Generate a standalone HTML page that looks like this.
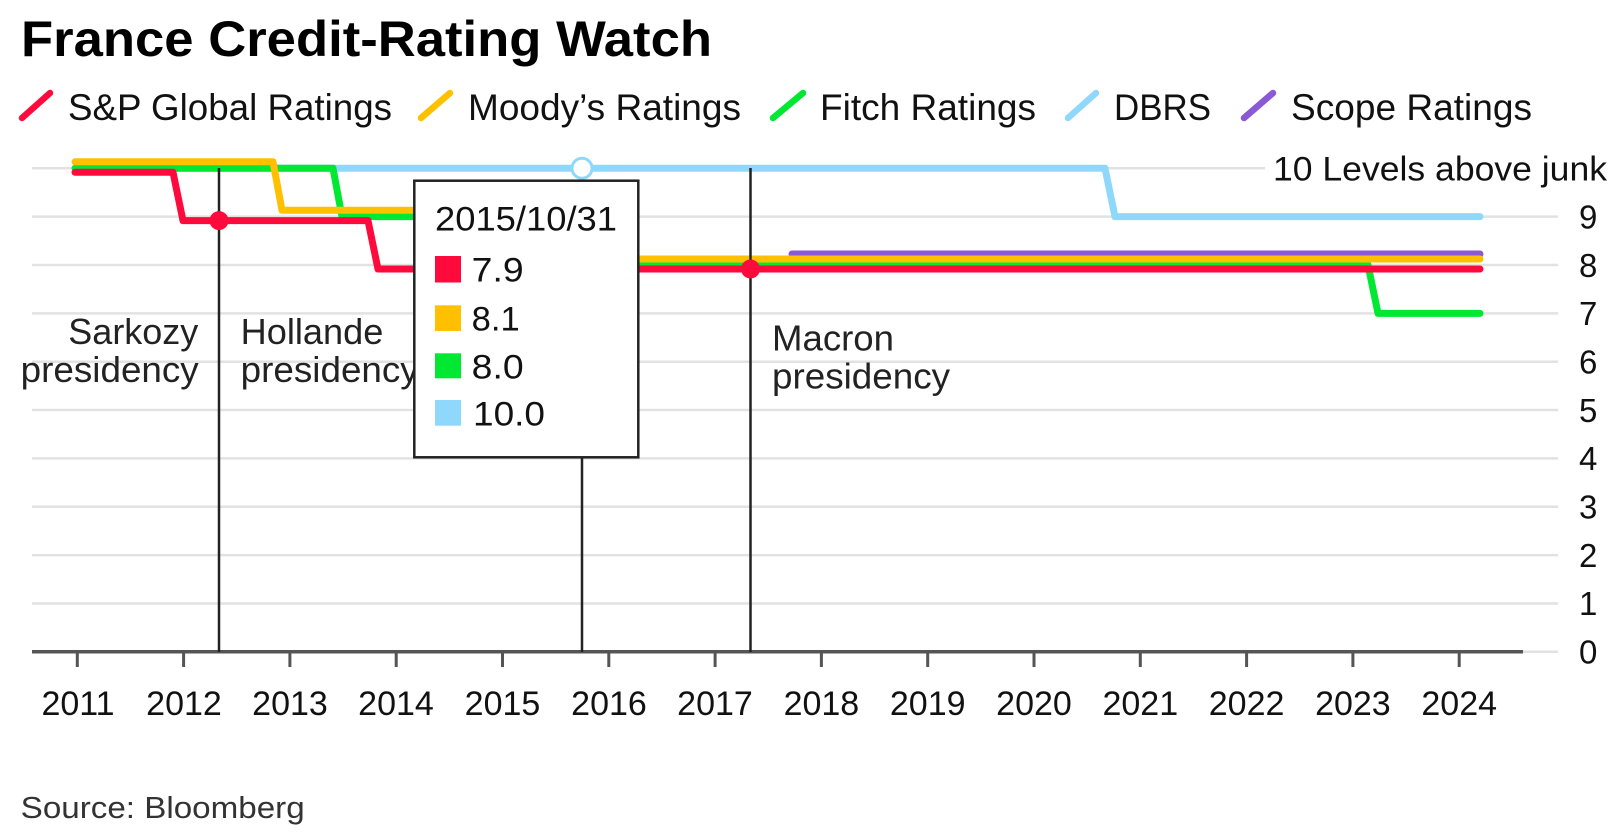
<!DOCTYPE html>
<html>
<head>
<meta charset="utf-8">
<style>
html,body{margin:0;padding:0;background:#fff;}
svg{display:block;}
text{font-family:"Liberation Sans", Arial, sans-serif;}
</style>
</head>
<body>
<svg width="1619" height="834" viewBox="0 0 1619 834" xmlns="http://www.w3.org/2000/svg">
  <rect x="0" y="0" width="1619" height="834" fill="#fff"/>

  <!-- Title -->
  <text x="21" y="56" font-size="50" font-weight="bold" fill="#000" textLength="691" lengthAdjust="spacingAndGlyphs">France Credit-Rating Watch</text>

  <!-- Legend -->
  <g stroke-width="6.5" stroke-linecap="round">
    <line x1="22" y1="118" x2="50" y2="93" stroke="#ff0a3c"/>
    <line x1="421" y1="118" x2="450" y2="93" stroke="#ffc000"/>
    <line x1="773" y1="118" x2="803" y2="93" stroke="#00e832"/>
    <line x1="1068" y1="118" x2="1096" y2="93" stroke="#8fd8fb"/>
    <line x1="1244" y1="118" x2="1273" y2="93" stroke="#8a5ad6"/>
  </g>
  <g font-size="37" fill="#111">
    <text x="68" y="120" textLength="324" lengthAdjust="spacingAndGlyphs">S&amp;P Global Ratings</text>
    <text x="468" y="120" textLength="273" lengthAdjust="spacingAndGlyphs">Moody’s Ratings</text>
    <text x="820" y="120" textLength="216" lengthAdjust="spacingAndGlyphs">Fitch Ratings</text>
    <text x="1114" y="120" textLength="97" lengthAdjust="spacingAndGlyphs">DBRS</text>
    <text x="1291" y="120" textLength="241" lengthAdjust="spacingAndGlyphs">Scope Ratings</text>
  </g>

  <!-- Gridlines -->
  <g stroke="#e2e2e2" stroke-width="2.5">
    <line x1="32" y1="168.3" x2="1265" y2="168.3"/>
    <line x1="32" y1="216.65" x2="1558" y2="216.65"/>
    <line x1="32" y1="265" x2="1558" y2="265"/>
    <line x1="32" y1="313.35" x2="1558" y2="313.35"/>
    <line x1="32" y1="361.7" x2="1558" y2="361.7"/>
    <line x1="32" y1="410.05" x2="1558" y2="410.05"/>
    <line x1="32" y1="458.4" x2="1558" y2="458.4"/>
    <line x1="32" y1="506.75" x2="1558" y2="506.75"/>
    <line x1="32" y1="555.1" x2="1558" y2="555.1"/>
    <line x1="32" y1="603.45" x2="1558" y2="603.45"/>
    <line x1="32" y1="651.8" x2="1558" y2="651.8"/>
  </g>

  <!-- Y labels -->
  <text x="1607" y="180.7" font-size="34" fill="#111" text-anchor="end" textLength="334" lengthAdjust="spacingAndGlyphs">10 Levels above junk</text>
  <g font-size="33" fill="#111">
    <text x="1579" y="228.4">9</text>
    <text x="1579" y="276.8">8</text>
    <text x="1579" y="325.1">7</text>
    <text x="1579" y="373.5">6</text>
    <text x="1579" y="421.8">5</text>
    <text x="1579" y="470.2">4</text>
    <text x="1579" y="518.5">3</text>
    <text x="1579" y="566.9">2</text>
    <text x="1579" y="615.2">1</text>
    <text x="1579" y="663.6">0</text>
  </g>

  <!-- Series -->
  <g fill="none" stroke-width="7" stroke-linecap="round" stroke-linejoin="round">
    <!-- DBRS -->
    <polyline stroke="#8fd8fb" points="75,168.3 1105,168.3 1115,216.65 1480,216.65"/>
    <!-- Scope -->
    <polyline stroke="#8a5ad6" points="792,254 1480,254"/>
    <!-- Fitch -->
    <polyline stroke="#00e832" points="75,168.3 333,168.3 342,216.65 495,216.65 505,265 1368,265 1378,313.35 1480,313.35"/>
    <!-- Moody's -->
    <polyline stroke="#ffc000" points="75,161.8 273,161.8 282,210.2 578,210.2 588,259 1480,259"/>
    <!-- S&P -->
    <polyline stroke="#ff0a3c" points="75,172.3 173,172.3 183,220.65 368,220.65 378,269 1480,269"/>
  </g>

  <!-- Axis -->
  <line x1="32" y1="651.8" x2="1523" y2="651.8" stroke="#555" stroke-width="3.5"/>
  <g stroke="#555" stroke-width="3">
    <line x1="77.3" y1="652" x2="77.3" y2="667"/>
    <line x1="183.6" y1="652" x2="183.6" y2="667"/>
    <line x1="289.9" y1="652" x2="289.9" y2="667"/>
    <line x1="396.2" y1="652" x2="396.2" y2="667"/>
    <line x1="502.5" y1="652" x2="502.5" y2="667"/>
    <line x1="608.8" y1="652" x2="608.8" y2="667"/>
    <line x1="715.1" y1="652" x2="715.1" y2="667"/>
    <line x1="821.4" y1="652" x2="821.4" y2="667"/>
    <line x1="927.7" y1="652" x2="927.7" y2="667"/>
    <line x1="1034" y1="652" x2="1034" y2="667"/>
    <line x1="1140.3" y1="652" x2="1140.3" y2="667"/>
    <line x1="1246.6" y1="652" x2="1246.6" y2="667"/>
    <line x1="1352.9" y1="652" x2="1352.9" y2="667"/>
    <line x1="1459.2" y1="652" x2="1459.2" y2="667"/>
  </g>
  <g font-size="34" fill="#111" text-anchor="middle">
    <text x="78" y="715">2011</text>
    <text x="184" y="715">2012</text>
    <text x="290" y="715">2013</text>
    <text x="396" y="715">2014</text>
    <text x="502.5" y="715">2015</text>
    <text x="609" y="715">2016</text>
    <text x="715" y="715">2017</text>
    <text x="821.4" y="715">2018</text>
    <text x="927.7" y="715">2019</text>
    <text x="1034" y="715">2020</text>
    <text x="1140.3" y="715">2021</text>
    <text x="1246.6" y="715">2022</text>
    <text x="1352.9" y="715">2023</text>
    <text x="1459.2" y="715">2024</text>
  </g>

  <!-- Presidency lines -->
  <g stroke="#222" stroke-width="2.5">
    <line x1="219" y1="168" x2="219" y2="652"/>
    <line x1="750.5" y1="168" x2="750.5" y2="652"/>
    <line x1="582" y1="168" x2="582" y2="652"/>
  </g>
  <circle cx="219" cy="220.65" r="9.5" fill="#ff0a3c"/>
  <circle cx="750.5" cy="269" r="9.5" fill="#ff0a3c"/>
  <circle cx="582" cy="168.3" r="10" fill="#fff" stroke="#8fd8fb" stroke-width="3"/>

  <!-- Annotations -->
  <g font-size="36" fill="#222">
    <text x="68.3" y="344" textLength="130" lengthAdjust="spacingAndGlyphs">Sarkozy</text>
    <text x="20.7" y="382" textLength="178" lengthAdjust="spacingAndGlyphs">presidency</text>
    <text x="240.7" y="344" textLength="142.6" lengthAdjust="spacingAndGlyphs">Hollande</text>
    <text x="240.7" y="382" textLength="178" lengthAdjust="spacingAndGlyphs">presidency</text>
    <text x="772" y="350.7" textLength="122" lengthAdjust="spacingAndGlyphs">Macron</text>
    <text x="772" y="388.5" textLength="178" lengthAdjust="spacingAndGlyphs">presidency</text>
  </g>

  <!-- Tooltip -->
  <rect x="414.3" y="180.7" width="224" height="276.6" fill="#fff" stroke="#222" stroke-width="2.5"/>
  <text x="435" y="230.7" font-size="34" fill="#111" textLength="182" lengthAdjust="spacingAndGlyphs">2015/10/31</text>
  <rect x="435" y="256" width="26" height="26.5" fill="#ff0a3c"/>
  <rect x="435" y="305.3" width="26" height="25.7" fill="#ffc000"/>
  <rect x="435" y="353.3" width="26" height="25" fill="#00e832"/>
  <rect x="435" y="400" width="26" height="25.7" fill="#8fd8fb"/>
  <g font-size="34" fill="#111">
    <text x="471.7" y="281.7" textLength="52" lengthAdjust="spacingAndGlyphs">7.9</text>
    <text x="471.7" y="330.5" textLength="48" lengthAdjust="spacingAndGlyphs">8.1</text>
    <text x="471.7" y="378.5" textLength="52" lengthAdjust="spacingAndGlyphs">8.0</text>
    <text x="473" y="425.5" textLength="72" lengthAdjust="spacingAndGlyphs">10.0</text>
  </g>

  <!-- Source -->
  <text x="20.7" y="818" font-size="31" fill="#333" textLength="284" lengthAdjust="spacingAndGlyphs">Source: Bloomberg</text>
</svg>
</body>
</html>
